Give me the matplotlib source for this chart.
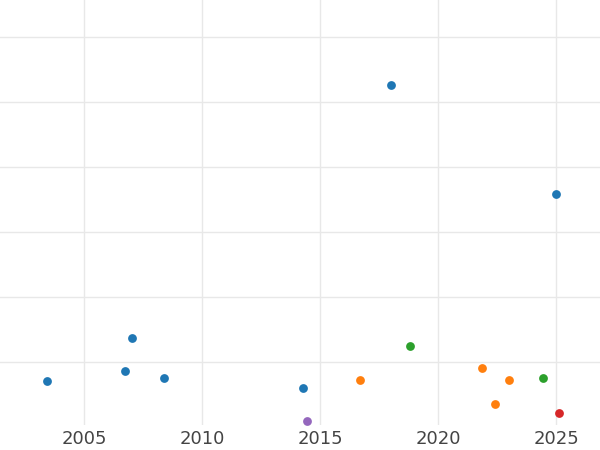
import matplotlib.pyplot as plt

blue_x = [2003.43, 2006.74, 2007.03, 2008.39, 2014.28, 2018.01, 2025.0]
blue_y = [0.71, 0.86, 1.37, 0.75, 0.60, 5.26, 3.58]
orange_x = [2016.69, 2021.86, 2022.42, 2023.0]
orange_y = [0.72, 0.91, 0.35, 0.72]
green_x = [2018.81, 2024.45]
green_y = [1.25, 0.75]
red_x = [2025.13]
red_y = [0.22]
purple_x = [2014.45]
purple_y = [0.09]

fig = plt.figure(figsize=(6, 4.5), dpi=100)
ax = fig.add_axes([0, 25 / 450, 1, 425 / 450])
for xs, ys, c in [(blue_x, blue_y, '#1f77b4'), (orange_x, orange_y, '#ff7f0e'),
                  (green_x, green_y, '#2ca02c'), (red_x, red_y, '#d62728'),
                  (purple_x, purple_y, '#9467bd')]:
    ax.scatter(xs, ys, s=40, color=c, zorder=3, linewidths=0)

ax.set_xlim(2001.44, 2026.86)
ax.set_ylim(0.03, 6.57)
ax.set_xticks([2005, 2010, 2015, 2020, 2025])
ax.set_yticks([1, 2, 3, 4, 5, 6])
ax.set_yticklabels([])
ax.grid(True, color='#e8e8e8', linewidth=1)
ax.tick_params(length=0, labelsize=13, labelcolor='#444444')
for s in ax.spines.values():
    s.set_visible(False)
fig.savefig('out.png', dpi=100)
